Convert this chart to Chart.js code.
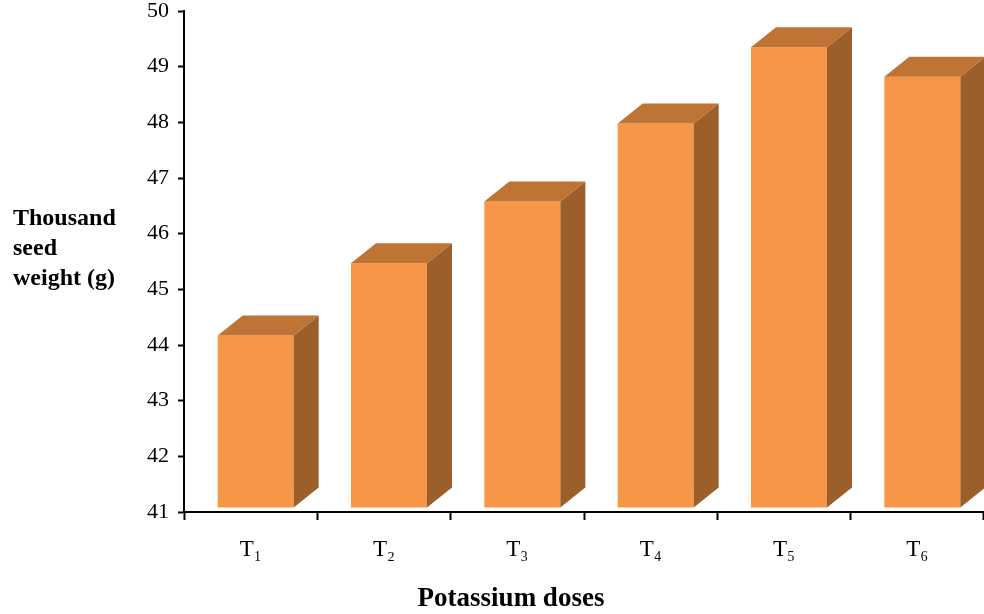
<!DOCTYPE html>
<html>
<head>
<meta charset="utf-8">
<script src="https://cdn.jsdelivr.net/npm/chart.js@4.4.1/dist/chart.umd.min.js"></script>
<style>
html,body{margin:0;padding:0;background:#fff;}
#wrap{width:984px;height:614px;position:relative;}
</style>
</head>
<body>
<div id="wrap"><canvas id="c" width="984" height="614"></canvas></div>
<script>
const categories = ["T\u2081", "T\u2082", "T\u2083", "T\u2084", "T\u2085", "T\u2086"];
const seedWeight = [44.17, 45.47, 46.58, 47.98, 49.35, 48.82];
const yTitleLines = ["Thousand", "seed", "weight (g)"];
const xTitle = "Potassium doses";
const yMin = 41, yMax = 50, yStep = 1;
const barBase = 41.08;

const FRONT = '#F79646', TOP = '#BE7434', SIDE = '#9C5E2B';
const DX = 25, DY = 20, SHIFT = 5;

const box3d = {
  id: 'box3d',
  beforeDatasetsDraw(chart) {
    chart.ctx.save();
    chart.ctx.translate(SHIFT, 0);
  },
  afterDatasetsDraw(chart) {
    const ctx = chart.ctx;
    chart.getDatasetMeta(0).data.forEach(el => {
      const p = el.getProps(['x', 'y', 'base', 'width'], true);
      const l = p.x - p.width / 2, r = p.x + p.width / 2, t = p.y, b = p.base;
      ctx.fillStyle = SIDE;
      ctx.beginPath();
      ctx.moveTo(r, t); ctx.lineTo(r + DX, t - DY); ctx.lineTo(r + DX, b - DY); ctx.lineTo(r, b);
      ctx.closePath(); ctx.fill();
      ctx.fillStyle = TOP;
      ctx.beginPath();
      ctx.moveTo(l, t); ctx.lineTo(l + DX, t - DY); ctx.lineTo(r + DX, t - DY); ctx.lineTo(r, t);
      ctx.closePath(); ctx.fill();
    });
    ctx.restore();
  },
  afterDraw(chart) {
    const ctx = chart.ctx;
    ctx.save();
    ctx.fillStyle = '#000';
    ctx.textAlign = 'left';
    ctx.textBaseline = 'alphabetic';
    ctx.font = 'bold 24px "Liberation Serif"';
    yTitleLines.forEach((s, i) => ctx.fillText(s, 13, 225 + i * 30));
    ctx.textAlign = 'center';
    ctx.font = 'bold 27px "Liberation Serif"';
    ctx.fillText(xTitle, 511, 606);
    ctx.restore();
  }
};

new Chart(document.getElementById('c'), {
  type: 'bar',
  data: {
    labels: categories,
    datasets: [{
      data: seedWeight,
      base: barBase,
      backgroundColor: FRONT,
      borderWidth: 0,
      barPercentage: 0.57,
      categoryPercentage: 1.0
    }]
  },
  options: {
    responsive: false,
    animation: false,
    events: [],
    layout: { padding: { left: 0, right: 0, top: 11, bottom: 0 } },
    plugins: { legend: { display: false }, tooltip: { enabled: false } },
    scales: {
      x: {
        grid: { display: true, drawOnChartArea: false, drawTicks: true, tickLength: 8, tickColor: '#000', tickWidth: 2, offset: true },
        border: { display: true, color: '#000', width: 2 },
        ticks: { color: '#000', font: { family: 'Liberation Serif', size: 23 }, padding: 16, maxRotation: 0 },
        afterFit(s) { s.height = 102; s.paddingLeft = 0; s.paddingRight = 0; }
      },
      y: {
        min: yMin, max: yMax,
        grid: { display: true, drawOnChartArea: false, drawTicks: true, tickLength: 6, tickColor: '#000', tickWidth: 2 },
        border: { display: true, color: '#000', width: 2 },
        ticks: { stepSize: yStep, color: '#000', font: { family: 'Liberation Serif', size: 22 }, padding: 9 },
        afterFit(s) { s.width = 184; s.paddingTop = 0; s.paddingBottom = 0; }
      }
    }
  },
  plugins: [box3d]
});
</script>
</body>
</html>
